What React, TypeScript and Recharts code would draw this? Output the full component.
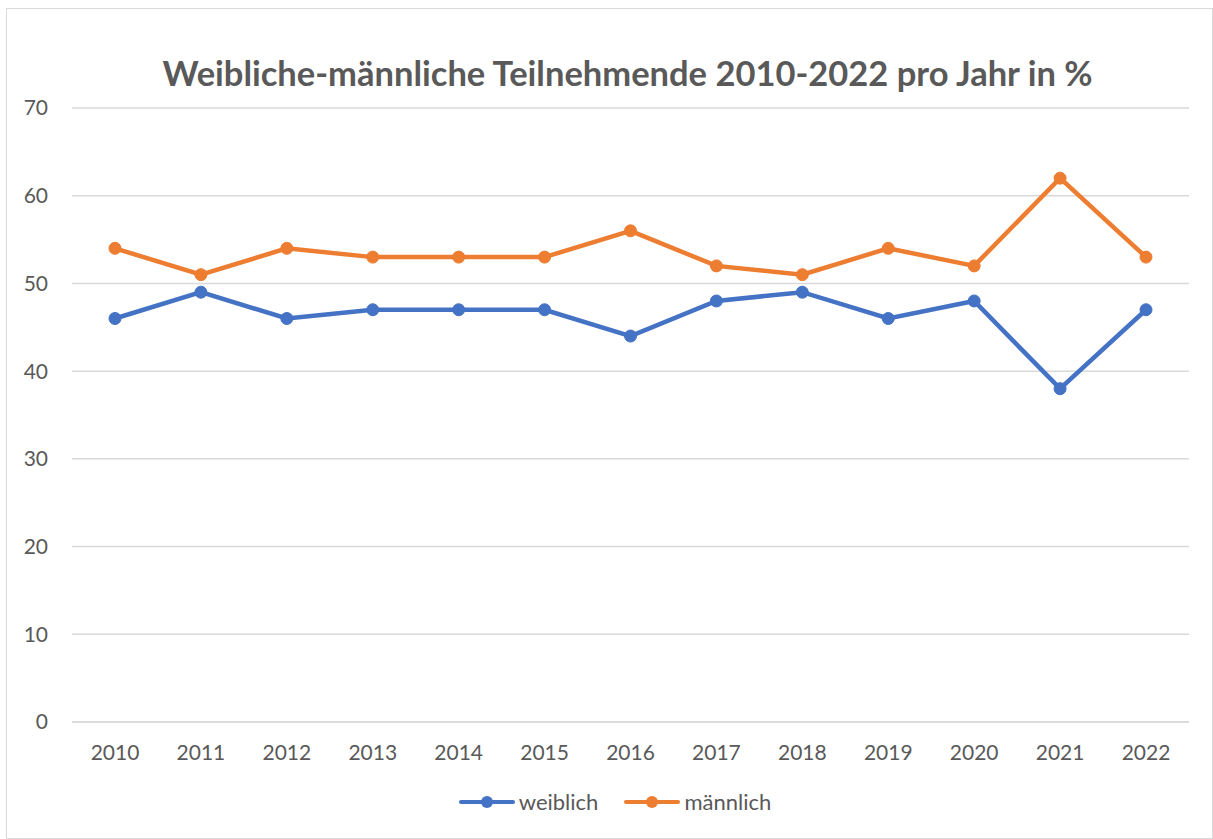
import { LineChart, Line, XAxis, YAxis, CartesianGrid, Legend } from 'recharts'

const years = ['2010', '2011', '2012', '2013', '2014', '2015', '2016', '2017', '2018', '2019', '2020', '2021', '2022']
const weiblich = [46, 49, 46, 47, 47, 47, 44, 48, 49, 46, 48, 38, 47]
const maennlich = [54, 51, 54, 53, 53, 53, 56, 52, 51, 54, 52, 62, 53]
const yTicks = [0, 10, 20, 30, 40, 50, 60, 70]

const data = years.map((year, i) => ({ year, weiblich: weiblich[i], männlich: maennlich[i] }))

const FONT = 'Lato, "Open Sans", sans-serif'
const TEXT = '#595959'

const series = [
  { key: 'weiblich', color: '#4472C4' },
  { key: 'männlich', color: '#ED7D31' },
]

function LegendContent() {
  return (
    <div style={{ display: 'flex', justifyContent: 'center', gap: 26, fontFamily: FONT, fontSize: 22, color: TEXT, paddingLeft: 34 }}>
      {series.map((s) => (
        <div key={s.key} style={{ display: 'flex', alignItems: 'center', gap: 4 }}>
          <svg width={56} height={14}>
            <line x1={2} y1={7} x2={54} y2={7} stroke={s.color} strokeWidth={4} strokeLinecap="round" />
            <circle cx={28} cy={7} r={6} fill={s.color} />
          </svg>
          <span>{s.key}</span>
        </div>
      ))}
    </div>
  )
}

export default function App() {
  return (
    <div
      style={{
        position: 'absolute',
        left: 6,
        top: 8,
        width: 1207,
        height: 831,
        border: '1px solid #D9D9D9',
        boxSizing: 'border-box',
        background: '#fff',
      }}
    >
      <div
        style={{
          position: 'absolute',
          left: 36,
          right: 0,
          top: 47,
          textAlign: 'center',
          fontFamily: FONT,
          fontWeight: 700,
          fontSize: 34.5,
          color: TEXT,
          lineHeight: 1,
        }}
      >
        Weibliche-männliche Teilnehmende 2010-2022 pro Jahr in %
      </div>
      <LineChart width={1207} height={831} data={data} margin={{ top: 99, right: 25, left: 0, bottom: 25 }}>
        <CartesianGrid vertical={false} stroke="#D9D9D9" strokeWidth={1.5} />
        <XAxis
          dataKey="year"
          axisLine={{ stroke: '#D9D9D9', strokeWidth: 1.5 }}
          tickLine={false}
          tickMargin={17}
          height={66}
          padding={{ left: 43, right: 43 }}
          tick={{ fontSize: 21, fontFamily: FONT, fill: TEXT }}
        />
        <YAxis
          domain={[0, 70]}
          ticks={yTicks}
          width={65}
          axisLine={false}
          tickLine={false}
          tickMargin={18}
          tick={{ fontSize: 21, fontFamily: FONT, fill: TEXT }}
        />
        <Legend verticalAlign="bottom" content={<LegendContent />} />
        {series.map((s) => (
          <Line
            key={s.key}
            dataKey={s.key}
            stroke={s.color}
            strokeWidth={4.5}
            dot={{ r: 6, fill: s.color, stroke: s.color, strokeWidth: 1 }}
            activeDot={false}
            isAnimationActive={false}
          />
        ))}
      </LineChart>
    </div>
  )
}
